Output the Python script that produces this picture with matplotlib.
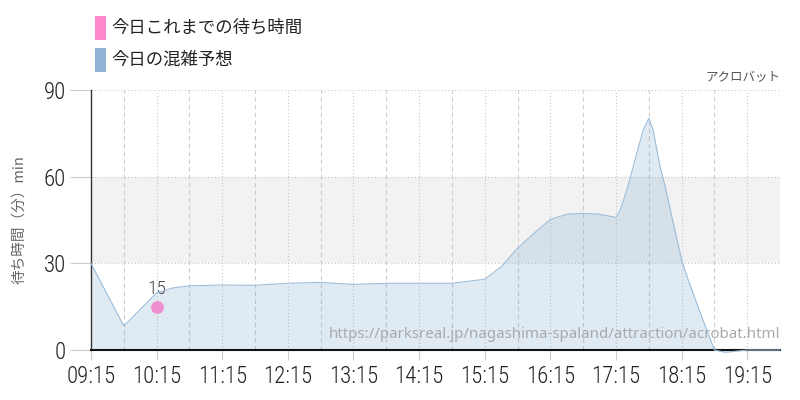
import matplotlib
matplotlib.use('Agg')
import matplotlib.pyplot as plt
from matplotlib.patches import Rectangle

# ── data ─────────────────────────────────────────────────────────────────────
forecast_times = ['09:15', '09:45', '10:15', '10:30', '10:45', '11:15', '11:45',
                  '12:15', '12:45', '13:15', '13:45', '14:15', '14:45', '15:15',
                  '15:30', '15:45', '16:00', '16:15', '16:30', '16:45', '17:00',
                  '17:15', '17:19', '17:22', '17:28', '17:34', '17:40', '17:45',
                  '17:49', '17:55', '18:00', '18:15', '18:20', '18:30', '18:45',
                  '18:55', '19:05', '19:15', '19:45']
forecast_wait = [30, 8.3, 19.8, 21.5, 22.2, 22.5, 22.4,
                 23.1, 23.4, 22.7, 23.1, 23.1, 23.1, 24.5,
                 28.8, 35.2, 40.4, 45.2, 47.0, 47.3, 47.0,
                 45.9, 48.5, 51.9, 59.4, 68.1, 76.2, 80.2,
                 76.2, 64.0, 56.5, 31.2, 25.4, 15.0, 0.0,
                 -0.8, -0.4, 0.0, 0.0]
actual_times = ['10:15']
actual_wait = [15]

tick_labels = ['09:15', '10:15', '11:15', '12:15', '13:15', '14:15',
               '15:15', '16:15', '17:15', '18:15', '19:15']
y_ticks = [0, 30, 60, 90]

TITLE = 'アクロバット'
URL = 'https://parksreal.jp/nagashima-spaland/attraction/acrobat.html'

PINK = '#ff88cc'
BLUE = '#8fb3d3'
CJK = ['Noto Sans CJK JP', 'DejaVu Sans']
NUM = ['Roboto Condensed', 'DejaVu Sans']


def to_hours(t):
    h, m = t.split(':')
    return int(h) + int(m) / 60.0


fx = [to_hours(t) for t in forecast_times]
ax_x = [to_hours(t) for t in actual_times]
x0 = to_hours('09:15')
x1 = to_hours('19:45')

fig = plt.figure(figsize=(8, 4), dpi=100, facecolor='white')
ax = fig.add_axes([91 / 800, 50 / 400, 689 / 800, 260 / 400])
ax.set_xlim(x0, x1)
ax.set_ylim(0, 90)

# gray band 30-60
ax.axhspan(30, 60, color='#f2f2f2', zorder=0, lw=0)

# grid: hours dotted, half hours dashed
for h in range(10, 21):
    xv = h + 0.25
    if xv < x1 + 0.01:
        ax.axvline(xv, color='#c8c8c8', lw=0.8, ls=(0, (1, 2)), zorder=1)
for h in range(9, 20):
    xv = h + 0.75
    ax.axvline(xv, color='#cccccc', lw=0.8, ls=(0, (4, 3)), zorder=1)
for yv in (30, 60, 90):
    ax.axhline(yv, color='#c8c8c8', lw=0.8, ls=(0, (1, 2)), zorder=1)

ax.fill_between(fx, forecast_wait, 0, color='#84acd0', alpha=0.25, lw=0,
                zorder=2, clip_on=False)
ax.plot(fx, forecast_wait, color='#9dbdd9', lw=0.8, zorder=8, clip_on=False)

ax.scatter(ax_x, actual_wait, s=85, color='#ee8fcf', zorder=5, lw=0)
for xv, yv in zip(ax_x, actual_wait):
    ax.annotate(str(yv), (xv, yv), xytext=(0, 9), textcoords='offset points',
                ha='center', va='baseline', fontsize=14, color='#444444',
                family=NUM, fontweight='light')

ax.text(1.0, 0.06, URL, transform=ax.transAxes, ha='right', va='center',
        fontsize=10.8, color='#aaaaaa', family=['Noto Sans', 'DejaVu Sans'],
        zorder=6)

for s in ('top', 'right'):
    ax.spines[s].set_visible(False)
ax.spines['left'].set_color('#333333')
ax.spines['left'].set_linewidth(1.0)
ax.spines['bottom'].set_color('#111111')
ax.spines['bottom'].set_linewidth(1.5)
ax.spines['bottom'].set_zorder(7)

ax.set_yticks(y_ticks)
ax.set_yticklabels([str(v) for v in y_ticks], family=NUM, fontsize=16.5,
                   color='#222222', fontweight='light')
ax.set_xticks([to_hours(t) for t in tick_labels])
ax.set_xticklabels(tick_labels, family=NUM, fontsize=16.5, color='#222222',
                   fontweight='light')
ax.tick_params(axis='y', length=15, color='#cccccc', pad=3)
ax.tick_params(axis='x', length=7, color='#cccccc', pad=4)

ax.set_ylabel('待ち時間（分）min', family=CJK, fontsize=10.5, color='#666666',
              labelpad=13)

fig.text(780 / 800, 1 - 78 / 400, TITLE, ha='right', va='center',
         fontsize=9, color='#555555', family=CJK)

# legend drawn by hand
fig.patches.append(Rectangle((95 / 800, 1 - 40 / 400), 11 / 800, 24 / 400,
                             transform=fig.transFigure, color=PINK, lw=0))
fig.patches.append(Rectangle((95 / 800, 1 - 72 / 400), 11 / 800, 24 / 400,
                             transform=fig.transFigure, color=BLUE, lw=0))
fig.text(111 / 800, 1 - 28 / 400, '今日これまでの待ち時間', ha='left', va='center',
         fontsize=12.5, color='#222222', family=CJK)
fig.text(111 / 800, 1 - 60 / 400, '今日の混雑予想', ha='left', va='center',
         fontsize=12.5, color='#222222', family=CJK)

fig.savefig('out.png', dpi=100, facecolor='white')
